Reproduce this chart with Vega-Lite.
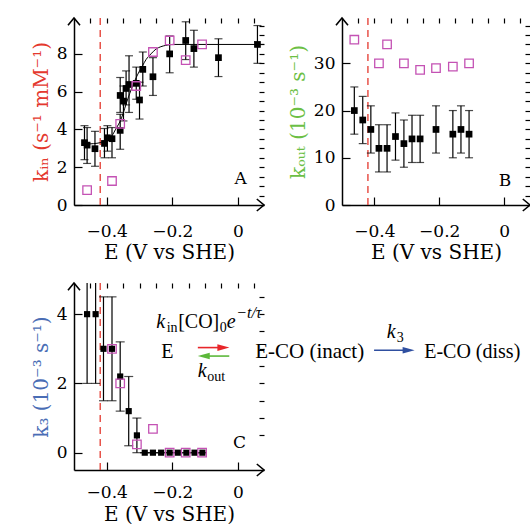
{
"$schema": "https://vega.github.io/schema/vega-lite/v6.json",
"padding": {"left": 31, "top": 14, "right": 0, "bottom": 0},
"spacing": 17,
"datasets": {
"aBlack": [
{"E":-0.468,"k":3.3,"lo":2.4,"hi":4.2},
{"E":-0.46,"k":3.17,"lo":2.2,"hi":4.1},
{"E":-0.436,"k":2.98,"lo":2.05,"hi":3.9},
{"E":-0.407,"k":3.26,"lo":2.5,"hi":4.05},
{"E":-0.398,"k":3.56,"lo":2.85,"hi":4.2},
{"E":-0.384,"k":3.51,"lo":2.5,"hi":4.1},
{"E":-0.359,"k":3.95,"lo":2.95,"hi":4.8},
{"E":-0.359,"k":5.8,"lo":4.9,"hi":6.75},
{"E":-0.349,"k":5.5,"lo":4.45,"hi":6.3},
{"E":-0.341,"k":6.17,"lo":5.3,"hi":7.1},
{"E":-0.332,"k":6.38,"lo":4.9,"hi":7.9},
{"E":-0.31,"k":6.44,"lo":5.6,"hi":7.3},
{"E":-0.3,"k":5.56,"lo":4.55,"hi":6.5},
{"E":-0.29,"k":7.18,"lo":6.3,"hi":8.1},
{"E":-0.259,"k":6.79,"lo":5.8,"hi":7.8},
{"E":-0.208,"k":8.0,"lo":7.0,"hi":8.95},
{"E":-0.159,"k":8.71,"lo":7.7,"hi":9.7},
{"E":-0.134,"k":8.28,"lo":7.3,"hi":9.25},
{"E":-0.059,"k":7.8,"lo":6.8,"hi":8.8},
{"E":0.06,"k":8.5,"lo":7.5,"hi":9.5}
],
"aFit": [
{"E":-0.47,"k":3.22},{"E":-0.44,"k":3.25},{"E":-0.42,"k":3.3},{"E":-0.4,"k":3.45},
{"E":-0.385,"k":3.65},{"E":-0.37,"k":4.1},{"E":-0.36,"k":4.4},{"E":-0.35,"k":4.85},
{"E":-0.34,"k":5.4},{"E":-0.33,"k":5.9},{"E":-0.32,"k":6.35},{"E":-0.31,"k":6.75},
{"E":-0.3,"k":7.1},{"E":-0.29,"k":7.4},{"E":-0.28,"k":7.7},{"E":-0.265,"k":8.0},
{"E":-0.25,"k":8.25},{"E":-0.235,"k":8.38},{"E":-0.22,"k":8.45},{"E":-0.2,"k":8.5},
{"E":0.08,"k":8.5}
],
"aMag": [
{"E":-0.46,"k":0.79},{"E":-0.384,"k":1.27},{"E":-0.359,"k":4.3},{"E":-0.31,"k":6.3},
{"E":-0.259,"k":8.1},{"E":-0.208,"k":8.71},{"E":-0.159,"k":7.67},{"E":-0.109,"k":8.5}
],
"bBlack": [
{"E":-0.462,"k":20.0,"lo":15.0,"hi":25.0},
{"E":-0.436,"k":18.0,"lo":13.0,"hi":23.0},
{"E":-0.411,"k":16.0,"lo":11.0,"hi":21.0},
{"E":-0.386,"k":12.0,"lo":7.0,"hi":17.0},
{"E":-0.361,"k":12.0,"lo":7.0,"hi":17.0},
{"E":-0.335,"k":14.5,"lo":9.5,"hi":19.5},
{"E":-0.309,"k":13.0,"lo":8.0,"hi":18.0},
{"E":-0.284,"k":14.0,"lo":9.0,"hi":19.0},
{"E":-0.259,"k":14.0,"lo":9.0,"hi":19.0},
{"E":-0.21,"k":16.0,"lo":11.0,"hi":21.0},
{"E":-0.158,"k":15.0,"lo":10.0,"hi":20.0},
{"E":-0.133,"k":16.0,"lo":11.0,"hi":21.0},
{"E":-0.108,"k":15.0,"lo":10.0,"hi":20.0}
],
"bMag": [
{"E":-0.462,"k":35.0},{"E":-0.386,"k":30.0},{"E":-0.361,"k":34.0},{"E":-0.309,"k":30.0},
{"E":-0.259,"k":28.6},{"E":-0.21,"k":29.0},{"E":-0.158,"k":29.3},{"E":-0.108,"k":30.0}
],
"cBlack": [
{"E":-0.46,"k":4.0,"lo":2.0,"hi":6.0},
{"E":-0.434,"k":4.0,"lo":2.0,"hi":6.0},
{"E":-0.41,"k":3.0,"lo":1.5,"hi":4.5},
{"E":-0.384,"k":3.0,"lo":1.5,"hi":4.5},
{"E":-0.359,"k":2.2,"lo":1.2,"hi":3.2},
{"E":-0.333,"k":1.2,"lo":0.2,"hi":2.2},
{"E":-0.308,"k":0.5,"lo":0.0,"hi":1.0},
{"E":-0.284,"k":0,"lo":0,"hi":0},
{"E":-0.259,"k":0,"lo":0,"hi":0},
{"E":-0.234,"k":0,"lo":0,"hi":0},
{"E":-0.208,"k":0,"lo":0,"hi":0},
{"E":-0.183,"k":0,"lo":0,"hi":0},
{"E":-0.157,"k":0,"lo":0,"hi":0},
{"E":-0.132,"k":0,"lo":0,"hi":0},
{"E":-0.108,"k":0,"lo":0,"hi":0}
],
"cMag": [
{"E":-0.384,"k":3.0},{"E":-0.359,"k":2.0},{"E":-0.308,"k":0.24},{"E":-0.259,"k":0.69},
{"E":-0.208,"k":0},{"E":-0.159,"k":0},{"E":-0.109,"k":0}
]
},
"vconcat": [
{
"hconcat": [
{
"width": 190, "height": 187,
"resolve": {"axis": {"x": "independent", "y": "independent"}},
"layer": [
{"data": {"values": [{}]}, "mark": {"type": "rule", "color": "#e4382e", "strokeDash": [7, 5], "strokeWidth": 1.3},
 "encoding": {"x": {"datum": -0.42, "type": "quantitative", "scale": {"domain": [-0.5, 0.08], "nice": false, "zero": false}, "axis": null}}},
{"data": {"name": "aFit"}, "mark": {"type": "line", "color": "black", "strokeWidth": 1, "interpolate": "monotone"},
 "encoding": {"x": {"field": "E", "type": "quantitative", "scale": {"domain": [-0.5, 0.08], "nice": false, "zero": false}, "axis": null},
  "y": {"field": "k", "type": "quantitative", "scale": {"domain": [0, 9.9], "nice": false, "zero": false}, "axis": null}}},
{"data": {"name": "aBlack"}, "mark": {"type": "rule", "color": "black", "strokeWidth": 1.2},
 "encoding": {"x": {"field": "E", "type": "quantitative", "scale": {"domain": [-0.5, 0.08], "nice": false, "zero": false}, "axis": null},
  "y": {"field": "lo", "type": "quantitative", "scale": {"domain": [0, 9.9], "nice": false, "zero": false}, "axis": null}, "y2": {"field": "hi"}}},
{"data": {"name": "aBlack"}, "mark": {"type": "tick", "orient": "horizontal", "size": 8, "thickness": 1.2, "color": "black"},
 "encoding": {"x": {"field": "E", "type": "quantitative", "scale": {"domain": [-0.5, 0.08], "nice": false, "zero": false}, "axis": null},
  "y": {"field": "lo", "type": "quantitative", "scale": {"domain": [0, 9.9], "nice": false, "zero": false}, "axis": null}}},
{"data": {"name": "aBlack"}, "mark": {"type": "tick", "orient": "horizontal", "size": 8, "thickness": 1.2, "color": "black"},
 "encoding": {"x": {"field": "E", "type": "quantitative", "scale": {"domain": [-0.5, 0.08], "nice": false, "zero": false}, "axis": null},
  "y": {"field": "hi", "type": "quantitative", "scale": {"domain": [0, 9.9], "nice": false, "zero": false}, "axis": null}}},
{"data": {"name": "aBlack"}, "mark": {"type": "point", "shape": "square", "filled": true, "color": "black", "size": 45, "opacity": 1},
 "encoding": {"x": {"field": "E", "type": "quantitative", "scale": {"domain": [-0.5, 0.08], "nice": false, "zero": false},
   "axis": {"values": [-0.4, -0.2, 0], "labelExpr": "datum.value == 0 ? '0' : format(datum.value, '.1f')", "tickSize": -8, "labelPadding": 26, "title": "E (V vs SHE)", "titlePadding": 3}},
  "y": {"field": "k", "type": "quantitative", "scale": {"domain": [0, 9.9], "nice": false, "zero": false},
   "axis": {"values": [0, 2, 4, 6, 8], "format": "d", "tickSize": -8, "labelPadding": 15, "title": "kᵢₙ (s⁻¹ mM⁻¹)", "titleColor": "#e4382e", "titleFontSize": 20, "titlePadding": 5}}}},
{"data": {"name": "aMag"}, "mark": {"type": "point", "shape": "square", "filled": false, "color": "#c452b4", "size": 72, "strokeWidth": 1.3, "opacity": 1},
 "encoding": {"x": {"field": "E", "type": "quantitative", "scale": {"domain": [-0.5, 0.08], "nice": false, "zero": false},
   "axis": {"values": [-0.45, -0.4, -0.35, -0.3, -0.25, -0.2, -0.15, -0.1, -0.05, 0, 0.05], "labels": false, "domain": false, "tickSize": -5, "title": null}},
  "y": {"field": "k", "type": "quantitative", "scale": {"domain": [0, 9.9], "nice": false, "zero": false},
   "axis": {"values": [0.5, 1, 1.5, 2, 2.5, 3, 3.5, 4, 4.5, 5, 5.5, 6, 6.5, 7, 7.5, 8, 8.5, 9, 9.5], "labels": false, "domain": false, "tickSize": -5, "title": null}}}},
{"data": {"values": [{}]}, "mark": {"type": "text", "text": "A", "fontSize": 17, "font": "DejaVu Serif", "baseline": "middle", "align": "center"},
 "encoding": {"x": {"datum": 0.009, "type": "quantitative", "scale": {"domain": [-0.5, 0.08], "nice": false, "zero": false}, "axis": null},
  "y": {"datum": 1.36, "type": "quantitative", "scale": {"domain": [0, 9.9], "nice": false, "zero": false}, "axis": null}}},
{"data": {"values": [{}]}, "mark": {"type": "point", "shape": "M-1,1.2L0,0L1,1.2", "filled": false, "stroke": "black", "strokeWidth": 1.6, "size": 144, "opacity": 1},
 "encoding": {"x": {"datum": -0.5, "type": "quantitative", "scale": {"domain": [-0.5, 0.08], "nice": false, "zero": false}, "axis": null},
  "y": {"datum": 9.9, "type": "quantitative", "scale": {"domain": [0, 9.9], "nice": false, "zero": false}, "axis": null}}},
{"data": {"values": [{}]}, "mark": {"type": "point", "shape": "M-1.2,-1L0,0L-1.2,1", "filled": false, "stroke": "black", "strokeWidth": 1.6, "size": 144, "opacity": 1},
 "encoding": {"x": {"datum": 0.08, "type": "quantitative", "scale": {"domain": [-0.5, 0.08], "nice": false, "zero": false}, "axis": null},
  "y": {"datum": 0, "type": "quantitative", "scale": {"domain": [0, 9.9], "nice": false, "zero": false}, "axis": null}}}
]
},
{
"width": 188, "height": 187,
"resolve": {"axis": {"x": "independent", "y": "independent"}},
"layer": [
{"data": {"values": [{}]}, "mark": {"type": "rule", "color": "#e4382e", "strokeDash": [7, 5], "strokeWidth": 1.3},
 "encoding": {"x": {"datum": -0.42, "type": "quantitative", "scale": {"domain": [-0.5, 0.08], "nice": false, "zero": false}, "axis": null}}},
{"data": {"name": "bBlack"}, "mark": {"type": "rule", "color": "black", "strokeWidth": 1.2},
 "encoding": {"x": {"field": "E", "type": "quantitative", "scale": {"domain": [-0.5, 0.08], "nice": false, "zero": false}, "axis": null},
  "y": {"field": "lo", "type": "quantitative", "scale": {"domain": [0, 39.6], "nice": false, "zero": false}, "axis": null}, "y2": {"field": "hi"}}},
{"data": {"name": "bBlack"}, "mark": {"type": "tick", "orient": "horizontal", "size": 8, "thickness": 1.2, "color": "black"},
 "encoding": {"x": {"field": "E", "type": "quantitative", "scale": {"domain": [-0.5, 0.08], "nice": false, "zero": false}, "axis": null},
  "y": {"field": "lo", "type": "quantitative", "scale": {"domain": [0, 39.6], "nice": false, "zero": false}, "axis": null}}},
{"data": {"name": "bBlack"}, "mark": {"type": "tick", "orient": "horizontal", "size": 8, "thickness": 1.2, "color": "black"},
 "encoding": {"x": {"field": "E", "type": "quantitative", "scale": {"domain": [-0.5, 0.08], "nice": false, "zero": false}, "axis": null},
  "y": {"field": "hi", "type": "quantitative", "scale": {"domain": [0, 39.6], "nice": false, "zero": false}, "axis": null}}},
{"data": {"name": "bBlack"}, "mark": {"type": "point", "shape": "square", "filled": true, "color": "black", "size": 45, "opacity": 1},
 "encoding": {"x": {"field": "E", "type": "quantitative", "scale": {"domain": [-0.5, 0.08], "nice": false, "zero": false},
   "axis": {"values": [-0.4, -0.2, 0], "labelExpr": "datum.value == 0 ? '0' : format(datum.value, '.1f')", "tickSize": -8, "labelPadding": 26, "title": "E (V vs SHE)", "titlePadding": 3}},
  "y": {"field": "k", "type": "quantitative", "scale": {"domain": [0, 39.6], "nice": false, "zero": false},
   "axis": {"values": [0, 10, 20, 30], "format": "d", "tickSize": -8, "labelPadding": 15, "title": "kₒᵤₜ (10⁻³ s⁻¹)", "titleColor": "#6cbf45", "titleFontSize": 20, "titlePadding": 5}}}},
{"data": {"name": "bMag"}, "mark": {"type": "point", "shape": "square", "filled": false, "color": "#c452b4", "size": 72, "strokeWidth": 1.3, "opacity": 1},
 "encoding": {"x": {"field": "E", "type": "quantitative", "scale": {"domain": [-0.5, 0.08], "nice": false, "zero": false},
   "axis": {"values": [-0.45, -0.4, -0.35, -0.3, -0.25, -0.2, -0.15, -0.1, -0.05, 0, 0.05], "labels": false, "domain": false, "tickSize": -5, "title": null}},
  "y": {"field": "k", "type": "quantitative", "scale": {"domain": [0, 39.6], "nice": false, "zero": false},
   "axis": {"values": [2, 4, 6, 8, 10, 12, 14, 16, 18, 20, 22, 24, 26, 28, 30, 32, 34, 36, 38], "labels": false, "domain": false, "tickSize": -5, "title": null}}}},
{"data": {"values": [{}]}, "mark": {"type": "text", "text": "B", "fontSize": 17, "font": "DejaVu Serif", "baseline": "middle", "align": "center"},
 "encoding": {"x": {"datum": 0.003, "type": "quantitative", "scale": {"domain": [-0.5, 0.08], "nice": false, "zero": false}, "axis": null},
  "y": {"datum": 5.1, "type": "quantitative", "scale": {"domain": [0, 39.6], "nice": false, "zero": false}, "axis": null}}},
{"data": {"values": [{}]}, "mark": {"type": "point", "shape": "M-1,1.2L0,0L1,1.2", "filled": false, "stroke": "black", "strokeWidth": 1.6, "size": 144, "opacity": 1},
 "encoding": {"x": {"datum": -0.5, "type": "quantitative", "scale": {"domain": [-0.5, 0.08], "nice": false, "zero": false}, "axis": null},
  "y": {"datum": 39.6, "type": "quantitative", "scale": {"domain": [0, 39.6], "nice": false, "zero": false}, "axis": null}}},
{"data": {"values": [{}]}, "mark": {"type": "point", "shape": "M-1.2,-1L0,0L-1.2,1", "filled": false, "stroke": "black", "strokeWidth": 1.6, "size": 144, "opacity": 1},
 "encoding": {"x": {"datum": 0.08, "type": "quantitative", "scale": {"domain": [-0.5, 0.08], "nice": false, "zero": false}, "axis": null},
  "y": {"datum": 0, "type": "quantitative", "scale": {"domain": [0, 39.6], "nice": false, "zero": false}, "axis": null}}}
]
}
],
"spacing": 78,
"bounds": "flush"
},
{
"width": 190, "height": 187,
"resolve": {"axis": {"x": "independent", "y": "independent"}},
"layer": [
{"data": {"values": [{}]}, "mark": {"type": "rule", "color": "#e4382e", "strokeDash": [7, 5], "strokeWidth": 1.3},
 "encoding": {"x": {"datum": -0.42, "type": "quantitative", "scale": {"domain": [-0.5, 0.08], "nice": false, "zero": false}, "axis": null}}},
{"data": {"name": "cBlack"}, "mark": {"type": "rule", "color": "black", "strokeWidth": 1.2, "clip": true},
 "encoding": {"x": {"field": "E", "type": "quantitative", "scale": {"domain": [-0.5, 0.08], "nice": false, "zero": false}, "axis": null},
  "y": {"field": "lo", "type": "quantitative", "scale": {"domain": [-0.5, 4.9], "nice": false, "zero": false}, "axis": null}, "y2": {"field": "hi"}}},
{"data": {"name": "cBlack"}, "mark": {"type": "tick", "orient": "horizontal", "size": 9, "thickness": 1.2, "color": "black", "clip": true},
 "encoding": {"x": {"field": "E", "type": "quantitative", "scale": {"domain": [-0.5, 0.08], "nice": false, "zero": false}, "axis": null},
  "y": {"field": "lo", "type": "quantitative", "scale": {"domain": [-0.5, 4.9], "nice": false, "zero": false}, "axis": null}}},
{"data": {"name": "cBlack"}, "mark": {"type": "tick", "orient": "horizontal", "size": 9, "thickness": 1.2, "color": "black", "clip": true},
 "encoding": {"x": {"field": "E", "type": "quantitative", "scale": {"domain": [-0.5, 0.08], "nice": false, "zero": false}, "axis": null},
  "y": {"field": "hi", "type": "quantitative", "scale": {"domain": [-0.5, 4.9], "nice": false, "zero": false}, "axis": null}}},
{"data": {"name": "cBlack"}, "mark": {"type": "point", "shape": "square", "filled": true, "color": "black", "size": 38, "opacity": 1},
 "encoding": {"x": {"field": "E", "type": "quantitative", "scale": {"domain": [-0.5, 0.08], "nice": false, "zero": false},
   "axis": {"values": [-0.4, -0.2, 0], "labelExpr": "datum.value == 0 ? '0' : format(datum.value, '.1f')", "tickSize": -8, "labelPadding": 22, "title": "E (V vs SHE)", "titlePadding": 4}},
  "y": {"field": "k", "type": "quantitative", "scale": {"domain": [-0.5, 4.9], "nice": false, "zero": false},
   "axis": {"values": [0, 2, 4], "format": "d", "tickSize": -8, "labelPadding": 15, "title": "k₃ (10⁻³ s⁻¹)", "titleColor": "#4a6db5", "titleFontSize": 20, "titlePadding": 5}}}},
{"data": {"name": "cMag"}, "mark": {"type": "point", "shape": "square", "filled": false, "color": "#c452b4", "size": 72, "strokeWidth": 1.3, "opacity": 1},
 "encoding": {"x": {"field": "E", "type": "quantitative", "scale": {"domain": [-0.5, 0.08], "nice": false, "zero": false},
   "axis": {"values": [-0.45, -0.4, -0.35, -0.3, -0.25, -0.2, -0.15, -0.1, -0.05, 0, 0.05], "labels": false, "domain": false, "tickSize": -5, "title": null}},
  "y": {"field": "k", "type": "quantitative", "scale": {"domain": [-0.5, 4.9], "nice": false, "zero": false},
   "axis": {"values": [0.5, 1, 1.5, 2, 2.5, 3, 3.5, 4, 4.5], "labels": false, "domain": false, "tickSize": -5, "title": null}}}},
{"data": {"values": [{}]}, "mark": {"type": "text", "text": "C", "fontSize": 17, "font": "DejaVu Serif", "baseline": "middle", "align": "center"},
 "encoding": {"x": {"datum": 0.005, "type": "quantitative", "scale": {"domain": [-0.5, 0.08], "nice": false, "zero": false}, "axis": null},
  "y": {"datum": 0.27, "type": "quantitative", "scale": {"domain": [-0.5, 4.9], "nice": false, "zero": false}, "axis": null}}},
{"data": {"values": [{}]}, "mark": {"type": "point", "shape": "M-1,1.2L0,0L1,1.2", "filled": false, "stroke": "black", "strokeWidth": 1.6, "size": 144, "opacity": 1},
 "encoding": {"x": {"datum": -0.5, "type": "quantitative", "scale": {"domain": [-0.5, 0.08], "nice": false, "zero": false}, "axis": null},
  "y": {"datum": 4.9, "type": "quantitative", "scale": {"domain": [-0.5, 4.9], "nice": false, "zero": false}, "axis": null}}},
{"data": {"values": [{}]}, "mark": {"type": "point", "shape": "M-1.2,-1L0,0L-1.2,1", "filled": false, "stroke": "black", "strokeWidth": 1.6, "size": 144, "opacity": 1},
 "encoding": {"x": {"datum": 0.08, "type": "quantitative", "scale": {"domain": [-0.5, 0.08], "nice": false, "zero": false}, "axis": null},
  "y": {"datum": -0.5, "type": "quantitative", "scale": {"domain": [-0.5, 4.9], "nice": false, "zero": false}, "axis": null}}},
{"data": {"values": [{}]}, "mark": {"type": "text", "text": "k", "font": "Liberation Serif", "fontStyle": "italic", "fontSize": 20, "align": "left", "baseline": "alphabetic"},
 "encoding": {"x": {"datum": -0.249, "type": "quantitative", "scale": {"domain": [-0.5, 0.08], "nice": false, "zero": false}, "axis": null},
  "y": {"datum": 3.6, "type": "quantitative", "scale": {"domain": [-0.5, 4.9], "nice": false, "zero": false}, "axis": null}}},
{"data": {"values": [{}]}, "mark": {"type": "text", "text": "in", "font": "Liberation Serif", "fontSize": 14, "align": "left", "baseline": "alphabetic"},
 "encoding": {"x": {"datum": -0.217, "type": "quantitative", "scale": {"domain": [-0.5, 0.08], "nice": false, "zero": false}, "axis": null},
  "y": {"datum": 3.48, "type": "quantitative", "scale": {"domain": [-0.5, 4.9], "nice": false, "zero": false}, "axis": null}}},
{"data": {"values": [{}]}, "mark": {"type": "text", "text": "[CO]", "font": "Liberation Serif", "fontSize": 20, "align": "left", "baseline": "alphabetic"},
 "encoding": {"x": {"datum": -0.182, "type": "quantitative", "scale": {"domain": [-0.5, 0.08], "nice": false, "zero": false}, "axis": null},
  "y": {"datum": 3.6, "type": "quantitative", "scale": {"domain": [-0.5, 4.9], "nice": false, "zero": false}, "axis": null}}},
{"data": {"values": [{}]}, "mark": {"type": "text", "text": "0", "font": "Liberation Serif", "fontSize": 14, "align": "left", "baseline": "alphabetic"},
 "encoding": {"x": {"datum": -0.055, "type": "quantitative", "scale": {"domain": [-0.5, 0.08], "nice": false, "zero": false}, "axis": null},
  "y": {"datum": 3.48, "type": "quantitative", "scale": {"domain": [-0.5, 4.9], "nice": false, "zero": false}, "axis": null}}},
{"data": {"values": [{}]}, "mark": {"type": "text", "text": "e", "font": "Liberation Serif", "fontStyle": "italic", "fontSize": 20, "align": "left", "baseline": "alphabetic"},
 "encoding": {"x": {"datum": -0.034, "type": "quantitative", "scale": {"domain": [-0.5, 0.08], "nice": false, "zero": false}, "axis": null},
  "y": {"datum": 3.6, "type": "quantitative", "scale": {"domain": [-0.5, 4.9], "nice": false, "zero": false}, "axis": null}}},
{"data": {"values": [{}]}, "mark": {"type": "text", "text": "−t/τ", "font": "Liberation Serif", "fontStyle": "italic", "fontSize": 16, "align": "left", "baseline": "alphabetic"},
 "encoding": {"x": {"datum": -0.005, "type": "quantitative", "scale": {"domain": [-0.5, 0.08], "nice": false, "zero": false}, "axis": null},
  "y": {"datum": 3.88, "type": "quantitative", "scale": {"domain": [-0.5, 4.9], "nice": false, "zero": false}, "axis": null}}},
{"data": {"values": [{}]}, "mark": {"type": "text", "text": "E", "font": "Liberation Serif", "fontSize": 20, "align": "center", "baseline": "alphabetic"},
 "encoding": {"x": {"datum": -0.215, "type": "quantitative", "scale": {"domain": [-0.5, 0.08], "nice": false, "zero": false}, "axis": null},
  "y": {"datum": 2.72, "type": "quantitative", "scale": {"domain": [-0.5, 4.9], "nice": false, "zero": false}, "axis": null}}},
{"data": {"values": [{}]}, "mark": {"type": "text", "text": "E-CO (inact)", "font": "Liberation Serif", "fontSize": 21, "align": "left", "baseline": "alphabetic"},
 "encoding": {"x": {"datum": 0.053, "type": "quantitative", "scale": {"domain": [-0.5, 0.08], "nice": false, "zero": false}, "axis": null},
  "y": {"datum": 2.72, "type": "quantitative", "scale": {"domain": [-0.5, 4.9], "nice": false, "zero": false}, "axis": null}}},
{"data": {"values": [{}]}, "mark": {"type": "text", "text": "E-CO (diss)", "font": "Liberation Serif", "fontSize": 20, "align": "left", "baseline": "alphabetic"},
 "encoding": {"x": {"datum": 0.569, "type": "quantitative", "scale": {"domain": [-0.5, 0.08], "nice": false, "zero": false}, "axis": null},
  "y": {"datum": 2.72, "type": "quantitative", "scale": {"domain": [-0.5, 4.9], "nice": false, "zero": false}, "axis": null}}},
{"data": {"values": [{}]}, "mark": {"type": "text", "text": "k", "font": "Liberation Serif", "fontStyle": "italic", "fontSize": 20, "align": "left", "baseline": "alphabetic"},
 "encoding": {"x": {"datum": -0.122, "type": "quantitative", "scale": {"domain": [-0.5, 0.08], "nice": false, "zero": false}, "axis": null},
  "y": {"datum": 2.2, "type": "quantitative", "scale": {"domain": [-0.5, 4.9], "nice": false, "zero": false}, "axis": null}}},
{"data": {"values": [{}]}, "mark": {"type": "text", "text": "out", "font": "Liberation Serif", "fontSize": 14, "align": "left", "baseline": "alphabetic"},
 "encoding": {"x": {"datum": -0.093, "type": "quantitative", "scale": {"domain": [-0.5, 0.08], "nice": false, "zero": false}, "axis": null},
  "y": {"datum": 2.08, "type": "quantitative", "scale": {"domain": [-0.5, 4.9], "nice": false, "zero": false}, "axis": null}}},
{"data": {"values": [{}]}, "mark": {"type": "text", "text": "k", "font": "Liberation Serif", "fontStyle": "italic", "fontSize": 20, "align": "left", "baseline": "alphabetic"},
 "encoding": {"x": {"datum": 0.455, "type": "quantitative", "scale": {"domain": [-0.5, 0.08], "nice": false, "zero": false}, "axis": null},
  "y": {"datum": 3.3, "type": "quantitative", "scale": {"domain": [-0.5, 4.9], "nice": false, "zero": false}, "axis": null}}},
{"data": {"values": [{}]}, "mark": {"type": "text", "text": "3", "font": "Liberation Serif", "fontSize": 14, "align": "left", "baseline": "alphabetic"},
 "encoding": {"x": {"datum": 0.485, "type": "quantitative", "scale": {"domain": [-0.5, 0.08], "nice": false, "zero": false}, "axis": null},
  "y": {"datum": 3.2, "type": "quantitative", "scale": {"domain": [-0.5, 4.9], "nice": false, "zero": false}, "axis": null}}},
{"data": {"values": [{}]}, "mark": {"type": "rule", "color": "#e8262a", "strokeWidth": 1.6},
 "encoding": {"x": {"datum": -0.122, "type": "quantitative", "scale": {"domain": [-0.5, 0.08], "nice": false, "zero": false}, "axis": null}, "x2": {"datum": -0.05},
  "y": {"datum": 3.035, "type": "quantitative", "scale": {"domain": [-0.5, 4.9], "nice": false, "zero": false}, "axis": null}}},
{"data": {"values": [{}]}, "mark": {"type": "point", "shape": "M1,0L-1,-0.55L-1,0.55Z", "filled": true, "color": "#e8262a", "size": 144, "opacity": 1},
 "encoding": {"x": {"datum": -0.044, "type": "quantitative", "scale": {"domain": [-0.5, 0.08], "nice": false, "zero": false}, "axis": null},
  "y": {"datum": 3.035, "type": "quantitative", "scale": {"domain": [-0.5, 4.9], "nice": false, "zero": false}, "axis": null}}},
{"data": {"values": [{}]}, "mark": {"type": "rule", "color": "#5cb83a", "strokeWidth": 1.6},
 "encoding": {"x": {"datum": -0.1, "type": "quantitative", "scale": {"domain": [-0.5, 0.08], "nice": false, "zero": false}, "axis": null}, "x2": {"datum": -0.026},
  "y": {"datum": 2.79, "type": "quantitative", "scale": {"domain": [-0.5, 4.9], "nice": false, "zero": false}, "axis": null}}},
{"data": {"values": [{}]}, "mark": {"type": "point", "shape": "M-1,0L1,-0.55L1,0.55Z", "filled": true, "color": "#5cb83a", "size": 144, "opacity": 1},
 "encoding": {"x": {"datum": -0.104, "type": "quantitative", "scale": {"domain": [-0.5, 0.08], "nice": false, "zero": false}, "axis": null},
  "y": {"datum": 2.79, "type": "quantitative", "scale": {"domain": [-0.5, 4.9], "nice": false, "zero": false}, "axis": null}}},
{"data": {"values": [{}]}, "mark": {"type": "rule", "color": "#2f4fa0", "strokeWidth": 1.6},
 "encoding": {"x": {"datum": 0.416, "type": "quantitative", "scale": {"domain": [-0.5, 0.08], "nice": false, "zero": false}, "axis": null}, "x2": {"datum": 0.515},
  "y": {"datum": 2.957, "type": "quantitative", "scale": {"domain": [-0.5, 4.9], "nice": false, "zero": false}, "axis": null}}},
{"data": {"values": [{}]}, "mark": {"type": "point", "shape": "M1,0L-1,-0.55L-1,0.55Z", "filled": true, "color": "#2f4fa0", "size": 144, "opacity": 1},
 "encoding": {"x": {"datum": 0.5215, "type": "quantitative", "scale": {"domain": [-0.5, 0.08], "nice": false, "zero": false}, "axis": null},
  "y": {"datum": 2.957, "type": "quantitative", "scale": {"domain": [-0.5, 4.9], "nice": false, "zero": false}, "axis": null}}}
]
}
],
"config": {
"font": "DejaVu Serif",
"view": {"stroke": null},
"axis": {"labelFont": "DejaVu Serif", "labelFontSize": 17, "labelColor": "black", "titleFont": "DejaVu Serif", "titleFontSize": 20, "titleFontWeight": "normal", "titleColor": "black", "domainColor": "black", "domainWidth": 1.5, "tickColor": "black", "tickWidth": 1.2, "grid": false}
}
}
